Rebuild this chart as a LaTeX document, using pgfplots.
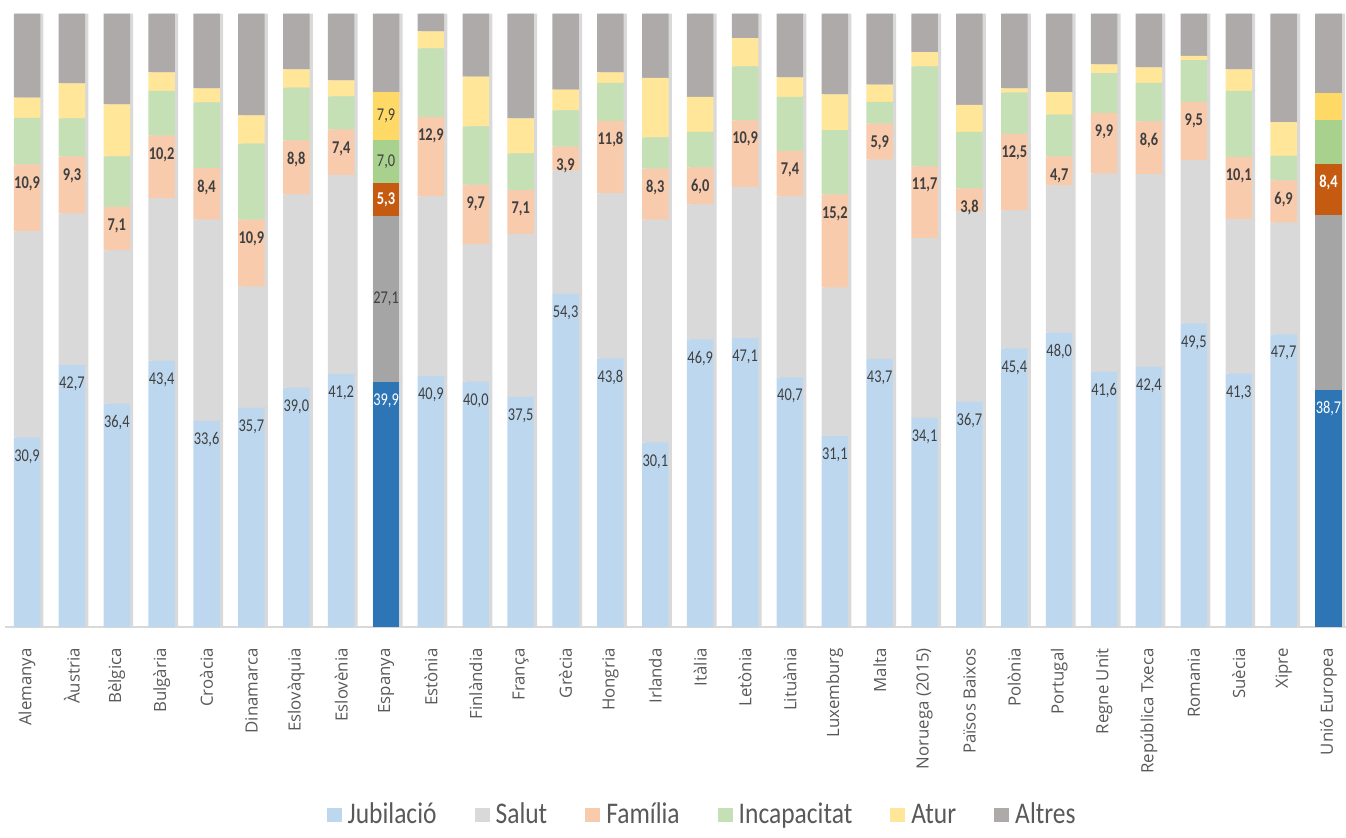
\documentclass[border=0pt]{standalone}
\usepackage{fontspec}
\setmainfont{Open Sans}
\newfontfamily\legfont[FakeStretch=0.85]{Carlito}
\newfontfamily\lblfont[FakeStretch=0.8]{Carlito}
\usepackage{pgfplots}
\usepackage{pgfplotstable}
\pgfplotsset{compat=1.18}

\definecolor{jubL}{HTML}{BDD7EE}\definecolor{jubD}{HTML}{2E75B6}
\definecolor{salL}{HTML}{D9D9D9}\definecolor{salD}{HTML}{A5A5A5}
\definecolor{famL}{HTML}{F8CBAD}\definecolor{famD}{HTML}{C55A11}
\definecolor{incL}{HTML}{C5E0B4}\definecolor{incD}{HTML}{A9D18E}
\definecolor{atuL}{HTML}{FFE699}\definecolor{atuD}{HTML}{FFD966}
\definecolor{altC}{HTML}{AEAAAA}
\definecolor{lbl}{HTML}{404040}
\definecolor{tick}{HTML}{595959}

\pgfplotstableread{
x jub sal fam inc atu alt
0 30.9 33.6 10.9 7.6 3.3 13.7
1 42.7 24.7 9.3 6.2 5.7 11.4
2 36.4 25.0 7.1 8.2 8.5 14.8
3 43.4 26.5 10.2 7.3 3.0 9.6
4 33.6 32.8 8.4 10.7 2.3 12.2
5 35.7 19.8 10.9 12.4 4.6 16.6
6 39.0 31.5 8.8 8.6 3.0 9.1
7 41.2 32.5 7.4 5.4 2.6 10.9
8 39.9 27.1 5.3 7.0 7.9 12.8
9 40.9 29.3 12.9 11.2 2.8 2.9
10 40.0 22.4 9.7 9.5 8.1 10.3
11 37.5 26.6 7.1 6.0 5.7 17.1
12 54.3 20.1 3.9 5.9 3.4 12.4
13 43.8 26.9 11.8 6.2 1.7 9.6
14 30.1 36.3 8.3 5.1 9.7 10.5
15 46.9 22.0 6.0 5.8 5.7 13.6
16 47.1 24.6 10.9 8.8 4.6 4.0
17 40.7 29.5 7.4 8.8 3.2 10.4
18 31.1 24.2 15.2 10.5 5.8 13.2
19 43.7 32.5 5.9 3.5 2.8 11.6
20 34.1 29.3 11.7 16.3 2.3 6.3
21 36.7 31.0 3.8 9.2 4.4 14.9
22 45.4 22.5 12.5 6.7 0.7 12.2
23 48.0 24.0 4.7 6.8 3.7 12.8
24 41.6 32.3 9.9 6.5 1.4 8.3
25 42.4 31.4 8.6 6.3 2.5 8.8
26 49.5 26.6 9.5 6.8 0.7 6.9
27 41.3 25.2 10.1 10.8 3.5 9.1
28 47.7 18.2 6.9 4.0 5.5 17.7
29 38.7 28.4 8.4 7.2 4.4 12.9
}\data

\pgfplotstableread{
x jub sal fam inc atu alt
8 39.9 27.1 5.3 7.0 7.9 12.8
}\esp

\pgfplotstableread{
x jub sal fam inc atu alt
29 38.7 28.4 8.4 7.2 4.4 12.9
}\ue

\pgfplotsset{
  base/.style={
    ybar stacked, bar width=13.25pt,
    scale only axis, width=670.7pt, height=306.75pt,
    xmin=-0.5, xmax=29.39, ymin=0, ymax=100,
    at={(0,0)}, anchor=south west,
    /pgf/number format/assume math mode=true,
    /pgf/number format/.cd, fixed, fixed zerofill, precision=1, use comma, /pgfplots/.cd,
  },
  hid/.style={base, hide axis},
  % centred label
  labc/.style={point meta=explicit, nodes near coords={\pgfmathprintnumber{\pgfplotspointmeta}},
    every node near coord/.append style={font=\lblfont\fontsize{9}{10}\selectfont, text=lbl, anchor=center, inner sep=0pt}},
  % label at the inside end of the segment
  labe/.style={labc, visualization depends on={rawy \as \segval},
    every node near coord/.append style={yshift=\segval*1.53375pt-9.5pt}},
  bold/.style={every node near coord/.append style={font=\lblfont\fontsize{9}{10}\selectfont\bfseries}},
}

\begin{document}
\begin{tikzpicture}
% shadow
\begin{axis}[hid]
\addplot[fill=black, opacity=0.15, draw=none, bar shift=1.6pt] table[x=x,y=jub]{\data};
\addplot[fill=black, opacity=0.15, draw=none, bar shift=1.6pt] table[x=x,y=sal]{\data};
\addplot[fill=black, opacity=0.15, draw=none, bar shift=1.6pt] table[x=x,y=fam]{\data};
\addplot[fill=black, opacity=0.15, draw=none, bar shift=1.6pt] table[x=x,y=inc]{\data};
\addplot[fill=black, opacity=0.15, draw=none, bar shift=1.6pt] table[x=x,y=atu]{\data};
\addplot[fill=black, opacity=0.15, draw=none, bar shift=1.6pt] table[x=x,y=alt]{\data};
\end{axis}
% main
\begin{axis}[base, name=main,
  axis x line*=bottom, axis y line=none,
  x axis line style={draw=salL, line width=0.6pt},
  xtick={0,...,29}, major tick length=0pt,
  xticklabels={Alemanya, Àustria, Bèlgica, Bulgària, Croàcia, Dinamarca, Eslovàquia, Eslovènia, Espanya, Estònia, Finlàndia, França, Grècia, Hongria, Irlanda, Itàlia, Letònia, Lituània, Luxemburg, Malta, {Noruega (2015)}, {Països Baixos}, Polònia, Portugal, {Regne Unit}, {República Txeca}, Romania, Suècia, Xipre, {Unió Europea}},
  xticklabel style={rotate=90, anchor=east, inner sep=0pt, font=\fontsize{8.4}{10}\selectfont, text=tick},
  xticklabel shift=10.5pt,
  legend columns=6,
  legend style={at={(0.520,0)}, anchor=center, yshift=-94pt, draw=none, fill=none,
    font=\legfont\fontsize{15}{18}\selectfont, text=tick,
    nodes={inner sep=1pt},
    /tikz/every even column/.append style={column sep=18pt},
    /tikz/every odd column/.append style={column sep=0pt}},
  legend image code/.code={\fill[#1] (0pt,-3.5pt) rectangle (7.5pt,3.5pt); \path (9.5pt,0pt);},
]
\addplot[fill=jubL, draw=none, labe] table[x=x,y=jub,meta=jub]{\data};
\addplot[fill=salL, draw=none] table[x=x,y=sal]{\data};
\addplot[fill=famL, draw=none, labe, bold] table[x=x,y=fam,meta=fam]{\data};
\addplot[fill=incL, draw=none] table[x=x,y=inc]{\data};
\addplot[fill=atuL, draw=none] table[x=x,y=atu]{\data};
\addplot[fill=altC, draw=none] table[x=x,y=alt]{\data};
\legend{Jubilació, Salut, Família, Incapacitat, Atur, Altres}
\end{axis}
% Espanya
\begin{axis}[hid]
\addplot[fill=jubD, draw=none, labe, every node near coord/.append style={text=white}] table[x=x,y=jub,meta=jub]{\esp};
\addplot[fill=salD, draw=none, labc] table[x=x,y=sal,meta=sal]{\esp};
\addplot[fill=famD, draw=none, labc, bold, every node near coord/.append style={text=white}] table[x=x,y=fam,meta=fam]{\esp};
\addplot[fill=incD, draw=none, labc] table[x=x,y=inc,meta=inc]{\esp};
\addplot[fill=atuD, draw=none, labc] table[x=x,y=atu,meta=atu]{\esp};
\addplot[fill=altC, draw=none] table[x=x,y=alt]{\esp};
\end{axis}
% UE
\begin{axis}[hid]
\addplot[fill=jubD, draw=none, labe, every node near coord/.append style={text=white}] table[x=x,y=jub,meta=jub]{\ue};
\addplot[fill=salD, draw=none] table[x=x,y=sal]{\ue};
\addplot[fill=famD, draw=none, labe, bold, every node near coord/.append style={text=white}] table[x=x,y=fam,meta=fam]{\ue};
\addplot[fill=incD, draw=none] table[x=x,y=inc]{\ue};
\addplot[fill=atuD, draw=none] table[x=x,y=atu]{\ue};
\addplot[fill=altC, draw=none] table[x=x,y=alt]{\ue};
\end{axis}
\pgfresetboundingbox
\path[use as bounding box] (-2.3pt,-105pt) rectangle (670.7pt,313.5pt);
\end{tikzpicture}
\end{document}
